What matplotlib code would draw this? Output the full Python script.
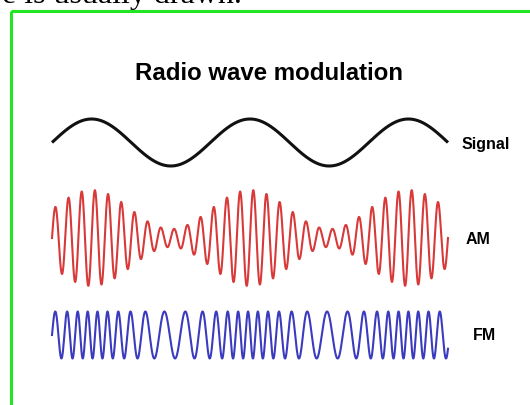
import matplotlib.pyplot as plt
from matplotlib.patches import Rectangle
import numpy as np

# values
wave_labels = ['Signal', 'AM', 'FM']
wave_colors = ['#111111', '#d42424', '#2626b8']
signal_cycles = 2.5          # cycles of the message signal across the trace
am_carrier_cycles = 30       # carrier cycles across the AM trace
am_envelope = [48, 9]        # AM half-height at signal peak / trough (px)
fm_cycles = [18.5, 40.5]     # FM local cycles across the trace, slowest / fastest
wave_amp = [23.5, 23.5]      # half-height of Signal and FM traces (px)
x_span = [52, 448]
y_centers = [142.5, 238, 335]

t = np.linspace(0, 1, 3000)
x = x_span[0] + t * (x_span[1] - x_span[0])
msg = np.sin(2 * np.pi * signal_cycles * t)

sig_y = wave_amp[0] * msg

a0 = (am_envelope[0] + am_envelope[1]) / 2
m = (am_envelope[0] - am_envelope[1]) / (am_envelope[0] + am_envelope[1])
am_y = a0 * (1 + m * msg) * np.sin(2 * np.pi * am_carrier_cycles * t)

fc = (fm_cycles[0] + fm_cycles[1]) / 2
df = (fm_cycles[1] - fm_cycles[0]) / 2
phase = fc * t + df * (1 - np.cos(2 * np.pi * signal_cycles * t)) / (2 * np.pi * signal_cycles)
fm_y = wave_amp[1] * np.sin(2 * np.pi * phase)

fig = plt.figure(figsize=(5.3, 4.05), dpi=100)
ax = fig.add_axes([0, 0, 1, 1])
ax.set_xlim(0, 530)
ax.set_ylim(405, 0)
ax.axis('off')

# page text cut off at the top and the green frame
ax.text(2, 3.5, 'e is usually drawn.', family='Liberation Serif', fontsize=23,
        va='baseline', ha='left', color='black')
ax.add_patch(Rectangle((10.5, 10.5), 540, 420, fill=False, edgecolor='#22e622', lw=2.2))

ax.text(269, 80, 'Radio wave modulation', family='Liberation Sans', weight='bold',
        fontsize=17.3, ha='center', va='baseline')

ax.plot(x, y_centers[0] - sig_y, color=wave_colors[0], lw=2.2, solid_capstyle='butt')
ax.plot(x, y_centers[1] - am_y, color=wave_colors[1], lw=1.5, alpha=0.9)
ax.plot(x, y_centers[2] - fm_y, color=wave_colors[2], lw=1.5, alpha=0.9)

label_pos = [(462, 149), (466, 243.5), (473, 340.5)]
for lab, (lx, ly) in zip(wave_labels, label_pos):
    ax.text(lx, ly, lab, family='Liberation Sans', weight='bold', fontsize=11.5,
            ha='left', va='baseline')

fig.savefig('out.png', dpi=100)
